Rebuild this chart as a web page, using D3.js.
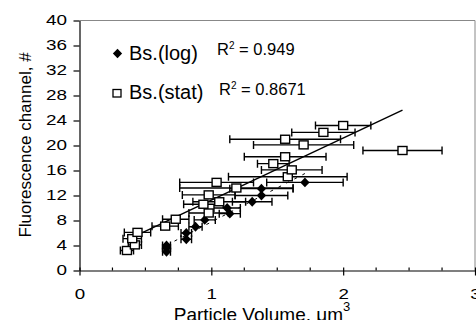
<!DOCTYPE html>
<html>
<head>
<meta charset="utf-8">
<script src="https://cdn.jsdelivr.net/npm/d3@7"></script>
<style>
  body { margin: 0; background: #fff; }
  text { font-family: "Liberation Sans", Arial, sans-serif; fill: #000; }
</style>
</head>
<body>
<svg id="viz" width="476" height="320"></svg>
<script>
// Bs.(log) series: particle volume, channel, horizontal error
const logX = [0.66, 0.66, 0.66, 0.81, 0.81, 0.88, 0.95, 1.14, 1.12, 1.31, 1.38, 1.38, 1.71];
const logY = [3.0, 3.6, 4.0, 5.0, 6.0, 7.0, 8.1, 9.1, 10.0, 11.0, 12.0, 13.1, 14.1];
const logErr = [0.03, 0.03, 0.03, 0.04, 0.04, 0.05, 0.08, 0.08, 0.1, 0.15, 0.2, 0.24, 0.29];

// Bs.(stat) series
const statX = [0.36, 0.42, 0.40, 0.44, 0.65, 0.73, 0.98, 0.94, 1.06, 0.98, 1.19, 1.04, 1.58, 1.61, 1.47, 1.56, 2.45, 1.70, 1.56, 1.85, 2.00];
const statY = [3.2, 4.1, 5.1, 6.1, 7.1, 8.2, 9.2, 10.6, 11.0, 12.1, 13.2, 14.1, 15.0, 16.1, 17.1, 18.2, 19.2, 20.1, 21.0, 22.1, 23.2];
const statErr = [0.05, 0.05, 0.07, 0.1, 0.1, 0.1, 0.15, 0.15, 0.2, 0.2, 0.43, 0.28, 0.45, 0.23, 0.12, 0.31, 0.30, 0.38, 0.42, 0.24, 0.21];

const xTicks = [0, 1, 2, 3];
const xMinorTicks = [0.25, 0.5, 0.75, 1.25, 1.5, 1.75, 2.25, 2.5, 2.75];
const yTicks = [0, 4, 8, 12, 16, 20, 24, 28, 32, 36, 40];
const legendLabels = ['Bs.(log)', 'Bs.(stat)'];
const r2Values = ['0.949', '0.8671'];

const svg = d3.select('#viz');
const x = d3.scaleLinear().domain([0, 3]).range([79.5, 475]);
const y = d3.scaleLinear().domain([0, 40]).range([270.5, 20.5]);

const zip = (xs, ys, es) => xs.map((v, i) => ({ x: v, y: ys[i], e: es[i] }));
const logPts = zip(logX, logY, logErr);
const statPts = zip(statX, statY, statErr);

// least squares fit, drawn across the data range like a spreadsheet trendline
function fit(pts) {
  const mx = d3.mean(pts, (d) => d.x);
  const my = d3.mean(pts, (d) => d.y);
  const sxy = d3.sum(pts, (d) => (d.x - mx) * (d.y - my));
  const sxx = d3.sum(pts, (d) => (d.x - mx) ** 2);
  const b = sxy / sxx;
  const a = my - b * mx;
  const [x0, x1] = d3.extent(pts, (d) => d.x);
  return [[x0, a + b * x0], [x1, a + b * x1]];
}

// frame (gray top and right)
svg.append('path')
  .attr('d', `M${x(0)},${y(40)}H${x(3)}V${y(0)}`)
  .attr('fill', 'none').attr('stroke', '#888').attr('stroke-width', 1);

// tick labels in the reference are wider than tall, so stretch them a bit
const YSTRETCH = 1.35;
const XSTRETCH = 1.25;

// y axis
const yAxis = svg.append('g').attr('transform', `translate(${x(0)},0)`)
  .call(d3.axisLeft(y).tickValues(yTicks).tickSize(6).tickSizeOuter(0));
yAxis.select('.domain').attr('stroke', '#000').attr('stroke-width', 1.2);
yAxis.selectAll('.tick line').attr('stroke-width', 1.2);
yAxis.selectAll('.tick text')
  .style('font-size', '14px')
  .attr('x', -12.5 / YSTRETCH)
  .attr('transform', `scale(${YSTRETCH},1)`);

// x axis: major ticks cross the line, minor ticks inside
const xAxis = svg.append('g').attr('transform', `translate(0,${y(0)})`)
  .call(d3.axisBottom(x).tickValues(xTicks).tickFormat(d3.format('d')).tickSize(0).tickSizeOuter(0));
xAxis.select('.domain').attr('stroke', '#000').attr('stroke-width', 1.2);
xAxis.selectAll('.tick text')
  .style('font-size', '15px')
  .attr('y', 29).attr('dy', null)
  .attr('transform', `scale(${XSTRETCH},1)`);
xAxis.selectAll('.tick').append('line')
  .attr('y1', -3).attr('y2', 5).attr('stroke', '#000').attr('stroke-width', 1.2);
xAxis.selectAll('.minor').data(xMinorTicks).enter().append('line')
  .attr('class', 'minor')
  .attr('x1', (d) => x(d)).attr('x2', (d) => x(d))
  .attr('y1', -3).attr('y2', 0).attr('stroke', '#000').attr('stroke-width', 1.2);

// axis titles
svg.append('text')
  .attr('transform', 'translate(31,145) rotate(-90)')
  .attr('text-anchor', 'middle').style('font-size', '17px')
  .text('Fluorescence channel, #');
const xt = svg.append('text')
  .attr('x', 262).attr('y', 320.5)
  .attr('text-anchor', 'middle').style('font-size', '19px');
xt.append('tspan').text('Particle Volume, \u03bcm');
xt.append('tspan').attr('dy', -10).style('font-size', '13px').text('3');

// trendlines
const line = d3.line().x((d) => x(d[0])).y((d) => y(d[1]));
svg.append('path').datum(fit(statPts)).attr('d', line)
  .attr('fill', 'none').attr('stroke', '#000').attr('stroke-width', 1.4);
svg.append('path').datum(fit(logPts)).attr('d', line)
  .attr('fill', 'none').attr('stroke', '#000').attr('stroke-width', 1)
  .attr('stroke-dasharray', '3,6');

// horizontal error bars
function errorBars(pts) {
  const g = svg.append('g').attr('stroke', '#000').attr('stroke-width', 1.4).attr('fill', 'none');
  g.selectAll('path').data(pts).enter().append('path')
    .attr('d', (d) => {
      const xl = x(d.x - d.e), xr = x(d.x + d.e), yy = y(d.y);
      return `M${xl},${yy}H${xr}M${xl},${yy - 4}V${yy + 4}M${xr},${yy - 4}V${yy + 4}`;
    });
}
errorBars(statPts);
errorBars(logPts);

// markers
const diamond = d3.symbol().type(d3.symbolDiamond2).size(55);
svg.append('g').selectAll('path').data(logPts).enter().append('path')
  .attr('d', diamond)
  .attr('transform', (d) => `translate(${x(d.x)},${y(d.y)}) scale(1,1.05)`)
  .attr('fill', '#000');
svg.append('g').selectAll('rect').data(statPts).enter().append('rect')
  .attr('x', (d) => x(d.x) - 4.5).attr('y', (d) => y(d.y) - 4)
  .attr('width', 9).attr('height', 8)
  .attr('fill', '#fff').attr('stroke', '#000').attr('stroke-width', 1.4);

// legend
const legend = svg.append('g');
legend.append('path').attr('d', diamond).attr('transform', 'translate(117.5,53.5)').attr('fill', '#000');
legend.append('rect').attr('x', 113).attr('y', 89.5).attr('width', 8).attr('height', 7.5)
  .attr('fill', '#fff').attr('stroke', '#000').attr('stroke-width', 1.3);
legend.selectAll('text.lab').data(legendLabels).enter().append('text')
  .attr('class', 'lab')
  .attr('x', 129).attr('y', (d, i) => 59.5 + i * 39.5)
  .style('font-size', '20px').text((d) => d);
const r2 = legend.selectAll('text.r2').data(r2Values).enter().append('text')
  .attr('class', 'r2')
  .attr('x', (d, i) => 217 + i * 2).attr('y', (d, i) => 55 + i * 39.5)
  .style('font-size', '16.5px');
r2.append('tspan').text('R');
r2.append('tspan').attr('dy', -6).style('font-size', '10px').text('2');
r2.append('tspan').attr('dy', 6).text((d) => ' = ' + d);
</script>
</body>
</html>
